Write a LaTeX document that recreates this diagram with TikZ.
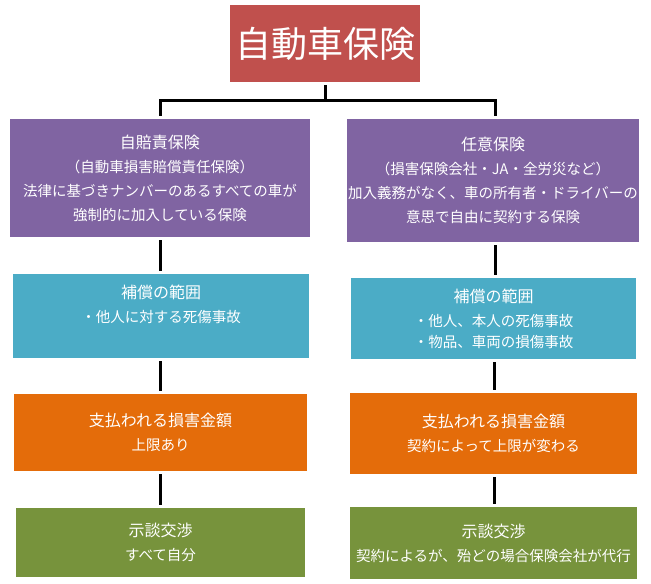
\documentclass[tikz,border=0pt]{standalone}
\usepackage{fontspec}
\setmainfont{Noto Sans CJK JP}
\usepackage{tikz}
\usetikzlibrary{positioning,calc}

\definecolor{titlered}{HTML}{C0504D}
\definecolor{kindpurple}{HTML}{8064A2}
\definecolor{rangeblue}{HTML}{4BACC6}
\definecolor{payorange}{HTML}{E46C0A}
\definecolor{talkgreen}{HTML}{77933C}

\tikzset{
	box/.style={rectangle, text=white, align=center, inner sep=0pt, font=\fontsize{14.5}{24}\selectfont},
	conn/.style={draw=black, line width=3pt, shorten <=3pt, shorten >=3pt}
}
\newcommand{\hd}[1]{{\fontsize{16}{24}\selectfont #1}}

\begin{document}
\begin{tikzpicture}[x=1pt, y=-1pt]
		\useasboundingbox (0,0) rectangle (651,584);
		\node[box, fill=titlered, minimum width=190pt, minimum height=77pt, font=\fontsize{36}{40}\selectfont] (title) at (325,43.5) {自動車保険};
		\node[box, fill=kindpurple, minimum width=300pt, minimum height=118pt] (jibai) at (160,178) {\hd{自賠責保険}\\（自動車損害賠償責任保険）\\法律に基づきナンバーのあるすべての車が\\強制的に加入している保険};
		\node[box, fill=kindpurple, minimum width=292pt, minimum height=123pt] (nini) at (493,180.5) {\hd{任意保険}\\（損害保険会社・JA・全労災など）\\加入義務がなく、車の所有者・ドライバーの\\意思で自由に契約する保険};
		\node[box, fill=rangeblue, minimum width=296pt, minimum height=84pt] (rangeL) at (161,316) {\hd{補償の範囲}\\・他人に対する死傷事故\\\mbox{}};
		\node[box, fill=rangeblue, minimum width=285pt, minimum height=81pt] (rangeR) at (493.5,318.5) {\hd{補償の範囲}\\・他人、本人の死傷事故\\[-3pt]・物品、車両の損傷事故};
		\node[box, fill=payorange, minimum width=293pt, minimum height=77pt] (payL) at (160.5,432.5) {\hd{支払われる損害金額}\\上限あり};
		\node[box, fill=payorange, minimum width=287pt, minimum height=81pt] (payR) at (493.5,433.5) {\hd{支払われる損害金額}\\契約によって上限が変わる};
		\node[box, fill=talkgreen, minimum width=289pt, minimum height=69pt] (talkL) at (160.5,542.5) {\hd{示談交渉}\\すべて自分};
		\node[box, fill=talkgreen, minimum width=287pt, minimum height=72pt] (talkR) at (493.5,543) {\hd{示談交渉}\\契約によるが、殆どの場合保険会社が代行};
		% branch
		\coordinate (split) at (325,100);
		\draw[conn] (title.south) -- (title.south |- split) -| (jibai.north);
		\draw[conn] (title.south) -- (title.south |- split) -| ([xshift=2pt]nini.north);
		% columns
		\draw[conn] (jibai.south) -- (jibai.south |- rangeL.north);
		\draw[conn] (rangeL.south -| jibai.south) -- (payL.north -| jibai.south);
		\draw[conn] (payL.south -| jibai.south) -- (talkL.north -| jibai.south);
		\draw[conn] ([xshift=2pt]nini.south) -- ([xshift=2pt]nini.south |- rangeR.north);
		\draw[conn] ([xshift=1pt]rangeR.south) -- ([xshift=1pt]payR.north);
		\draw[conn] ([xshift=1pt]payR.south) -- ([xshift=1pt]talkR.north);
	\end{tikzpicture}
\end{document}
